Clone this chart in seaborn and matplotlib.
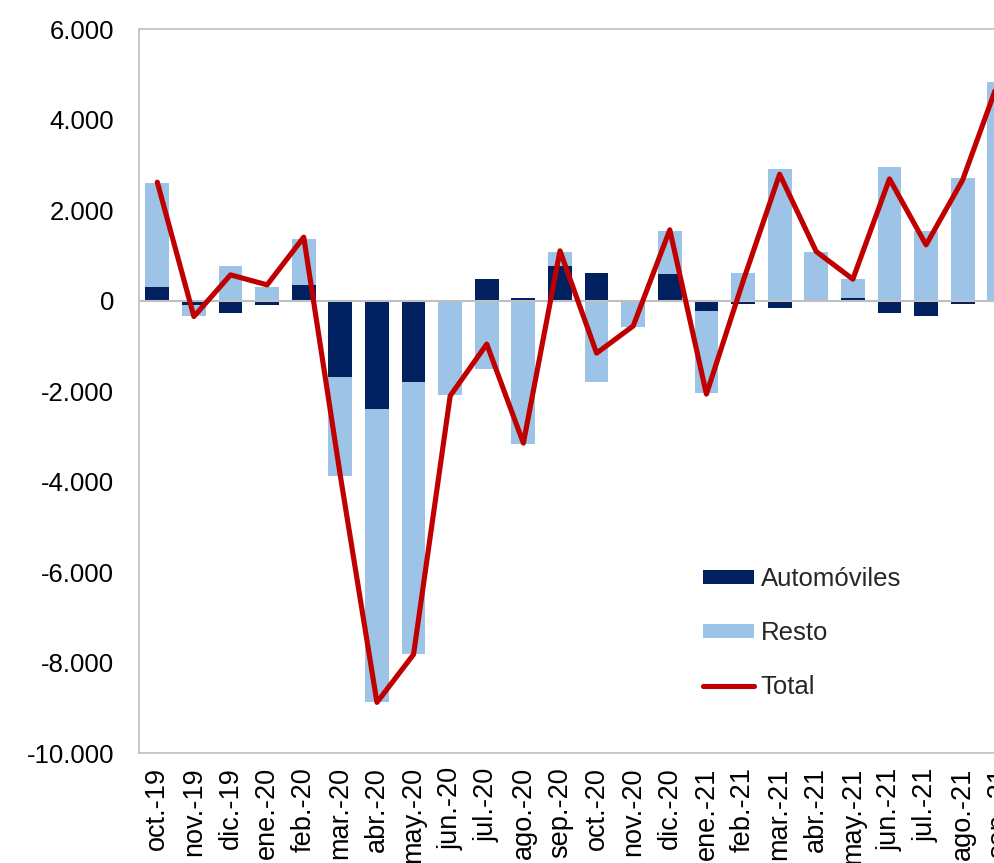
import numpy as np
import pandas as pd
import matplotlib
matplotlib.use('Agg')
import matplotlib.pyplot as plt
import seaborn as sns
from matplotlib.patches import Patch
from matplotlib.lines import Line2D

# ---- data ----
months = ['oct.-19', 'nov.-19', 'dic.-19', 'ene.-20', 'feb.-20', 'mar.-20',
          'abr.-20', 'may.-20', 'jun.-20', 'jul.-20', 'ago.-20', 'sep.-20',
          'oct.-20', 'nov.-20', 'dic.-20', 'ene.-21', 'feb.-21', 'mar.-21',
          'abr.-21', 'may.-21', 'jun.-21', 'jul.-21', 'ago.-21', 'sep.-21']
autos = [316, -88, -272, -95, 360, -1685, -2392, -1804, -30, 486, 73, 773,
         612, 3, 596, -214, -80, -161, -15, 66, -272, -338, -70, 20]
resto = [2284, -243, 780, 316, 1009, -2180, -6479, -6007, -2061, -1508, -3158, 303,
         -1804, -568, 950, -1824, 612, 2909, 1076, 420, 2959, 1546, 2723, 4820]
total = [2621, -347, 574, 353, 1407, -3865, -8871, -7811, -2100, -956, -3143, 1104,
         -1155, -555, 1568, -2060, 430, 2798, 1089, 479, 2694, 1237, 2672, 4900]
series_labels = ['Automóviles', 'Resto', 'Total']
ytick_values = [-10000, -8000, -6000, -4000, -2000, 0, 2000, 4000, 6000]
ytick_labels = ['-10.000', '-8.000', '-6.000', '-4.000', '-2.000', '0',
                '2.000', '4.000', '6.000']

# ---- styles ----
sns.set_style('white')
plt.rcParams['font.family'] = ['Liberation Sans', 'DejaVu Sans']

C_AUTO = '#002060'
C_RESTO = '#9DC3E6'
C_TOTAL = '#C00000'
C_AXIS = '#BFBFBF'
FS_Y = 18.5
FS_X = 19.5
FS_LEG = 18.5
LW_TOTAL = 3.7

df = pd.DataFrame({'mes': months, 'autos': autos, 'resto': resto, 'total': total})
# stacked bars: positives stack upward, negatives downward (Excel style)
same_sign = np.sign(df['autos']) == np.sign(df['resto'])
df['outer'] = np.where(same_sign, df['autos'] + df['resto'], df['resto'])

fig = plt.figure(figsize=(9.95, 8.63), dpi=100)
ax = fig.add_axes([0.1397, 0.1269, 0.883, 0.8392])

sns.barplot(data=df, x='mes', y='outer', color=C_RESTO, saturation=1, width=0.65,
            errorbar=None, ax=ax, zorder=2, linewidth=0)
sns.barplot(data=df, x='mes', y='autos', color=C_AUTO, saturation=1, width=0.65,
            errorbar=None, ax=ax, zorder=3, linewidth=0)
ax.axhline(0, color=C_AXIS, lw=1.5, zorder=4)
sns.lineplot(data=df, x='mes', y='total', color=C_TOTAL, lw=LW_TOTAL, sort=False,
             errorbar=None, ax=ax, zorder=5, solid_joinstyle='round',
             solid_capstyle='round')

ax.set_xlim(-0.5, len(months) - 0.5)
ax.set_ylim(-10000, 6000)
ax.set_yticks(ytick_values)
ax.set_yticklabels(ytick_labels)
ax.set_xlabel('')
ax.set_ylabel('')
ax.tick_params(axis='both', length=0, colors='black')
ax.tick_params(axis='y', pad=18, labelsize=FS_Y)
ax.tick_params(axis='x', pad=10, labelrotation=90, labelsize=FS_X)
ax.grid(False)
for sp in ax.spines.values():
    sp.set_visible(True)
    sp.set_color(C_AXIS)
    sp.set_linewidth(1.2)

handles = [Patch(facecolor=C_AUTO, edgecolor='none'),
           Patch(facecolor=C_RESTO, edgecolor='none'),
           Line2D([], [], color=C_TOTAL, lw=LW_TOTAL, solid_capstyle='round')]
ax.legend(handles, series_labels, loc='center left', bbox_to_anchor=(0.7065, 0.2665),
          bbox_transform=fig.transFigure, frameon=False, fontsize=FS_LEG,
          handlelength=2.0, handleheight=0.5, handletextpad=0.25,
          labelspacing=1.16, borderpad=0, borderaxespad=0)

fig.savefig('out.png', dpi=100)
